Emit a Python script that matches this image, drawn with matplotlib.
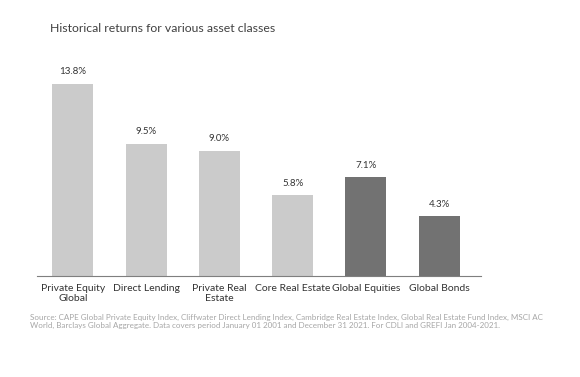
import numpy as np
import matplotlib.pyplot as plt

plt.rcParams['font.family'] = ['Lato', 'DejaVu Sans']

# data
categories = ["Private Equity\nGlobal", "Direct Lending", "Private Real\nEstate",
              "Core Real Estate", "Global Equities", "Global Bonds"]
returns = [13.8, 9.5, 9.0, 5.8, 7.1, 4.3]
colors = ["#cbcbcb"] * 4 + ["#727272"] * 2

fig = plt.figure(figsize=(5.8, 3.77), dpi=100)
ax = fig.add_axes([0.064, 0.268, 0.765, 0.59])

x = np.arange(len(categories))
ax.bar(x, returns, width=0.56, color=colors)
for xi, v in zip(x, returns):
    ax.text(xi, v + 0.55, f"{v:.1f}%", ha="center", va="bottom", fontsize=7, color="#333333")

ax.set_xlim(-0.49, 5.57)
ax.set_ylim(0, 16)
ax.set_xticks(x)
ax.set_xticklabels(categories, fontsize=7.5, color="#333333", linespacing=1.15)
ax.tick_params(axis="x", length=0, pad=6)
ax.set_yticks([])
for s in ["top", "right", "left"]:
    ax.spines[s].set_visible(False)
ax.spines["bottom"].set_color("#7f7f7f")
ax.spines["bottom"].set_linewidth(0.8)

fig.text(0.086, 0.925, "Historical returns for various asset classes",
         fontsize=8.8, color="#404040", va="center")
fig.text(0.052, 0.147,
         "Source: CAPE Global Private Equity Index, Cliffwater Direct Lending Index, Cambridge Real Estate Index, Global Real Estate Fund Index, MSCI AC\n"
         "World, Barclays Global Aggregate. Data covers period January 01 2001 and December 31 2021. For CDLI and GREFI Jan 2004-2021.",
         fontsize=5.8, color="#a6a6a6", va="center", linespacing=1.25)

fig.savefig("out.png", dpi=100)
